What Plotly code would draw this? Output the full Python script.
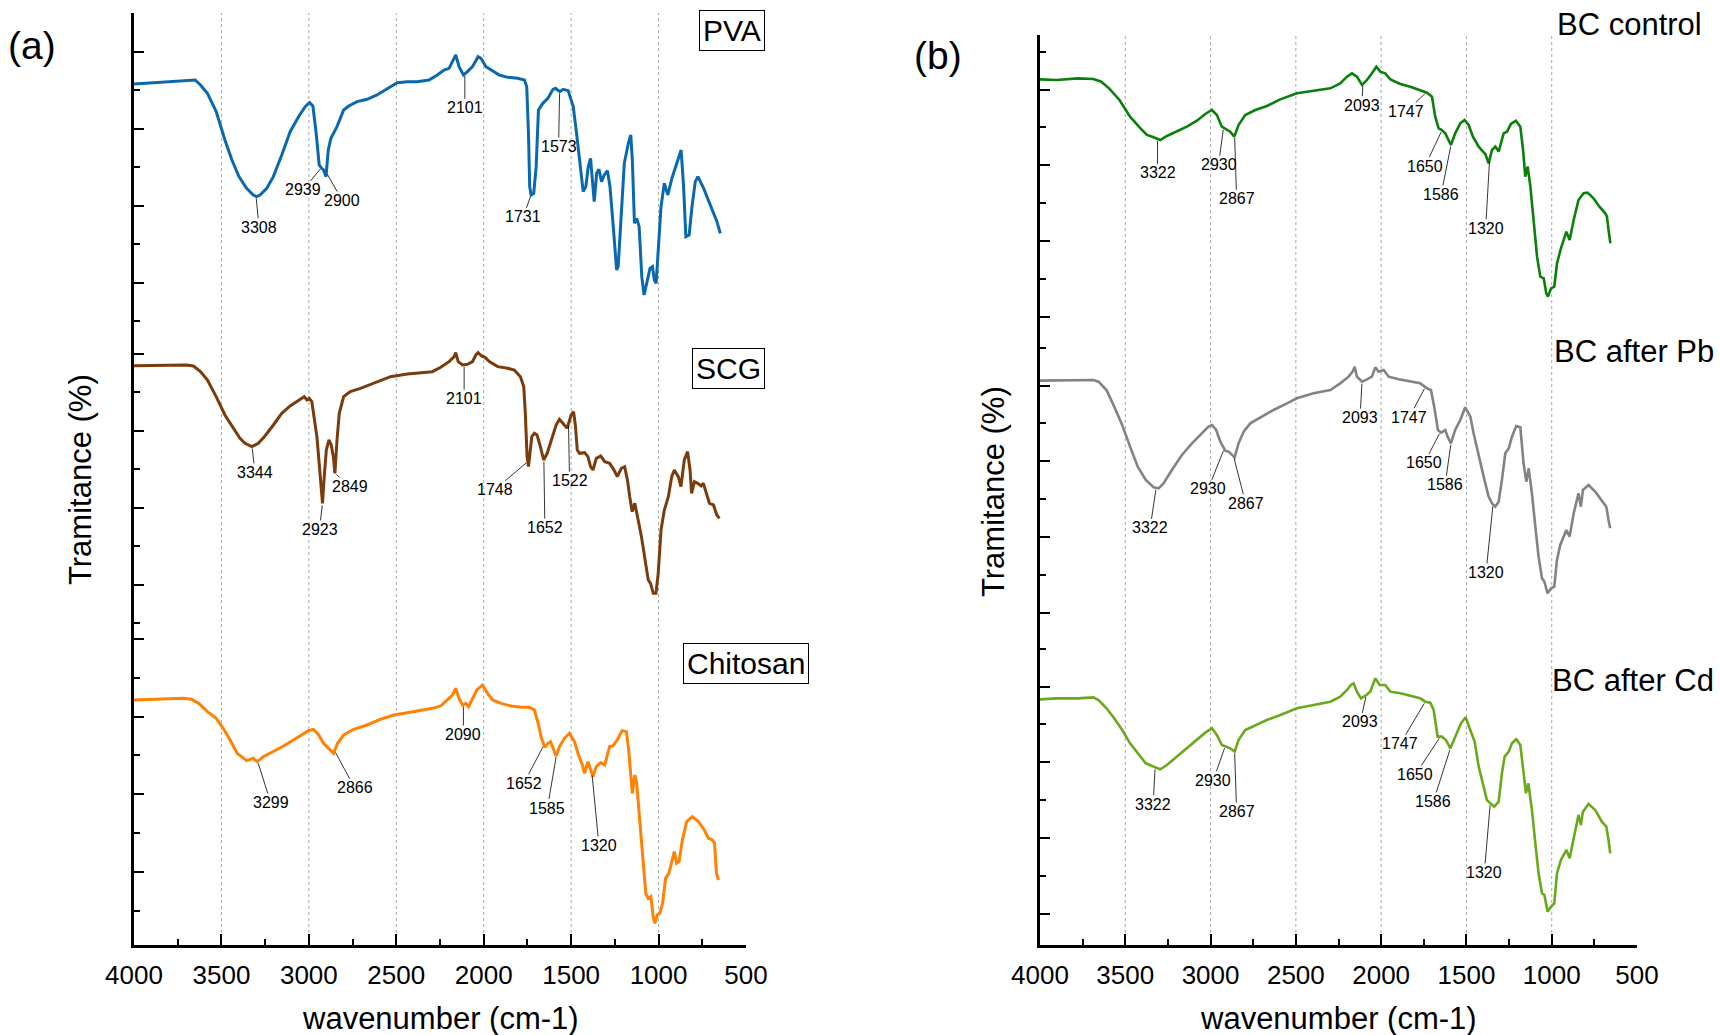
import numpy as np
import plotly.graph_objects as go

W, H = 1720, 1035

# ---------------- data (wavenumber cm-1, transmittance a.u.) ----------------
pva_wn = [4000, 3900, 3800, 3700, 3650, 3620, 3580, 3530, 3480, 3440,
          3400, 3356, 3318, 3299, 3279, 3241, 3203, 3155, 3107, 3059,
          3021, 2996, 2977, 2958, 2941, 2927, 2916, 2902, 2889, 2874,
          2839, 2801, 2772, 2724, 2667, 2610, 2552, 2495, 2437, 2380,
          2313, 2265, 2227, 2198, 2170, 2160, 2141, 2116, 2093, 2064,
          2032, 2016, 1987, 1959, 1911, 1863, 1806, 1767, 1754, 1744,
          1737, 1729, 1714, 1700, 1687, 1662, 1633, 1604, 1590, 1565,
          1546, 1517, 1488, 1469, 1450, 1431, 1416, 1402, 1389, 1377,
          1368, 1354, 1341, 1326, 1311, 1292, 1278, 1259, 1240, 1231,
          1215, 1196, 1173, 1159, 1150, 1138, 1125, 1111, 1096, 1083,
          1068, 1049, 1035, 1024, 1014, 1001, 986, 967, 947, 924,
          896, 871, 857, 844, 825, 809, 790, 775, 742, 714,
          685, 666, 647]
pva_t = [74.8, 75.2, 75.4, 76.0, 76.0, 74.5, 72.0, 66.5, 58.0, 52.0,
         47.0, 43.5, 41.5, 41.0, 41.5, 43.5, 47.0, 53.5, 60.5, 65.0,
         68.0, 69.2, 68.2, 60.0, 50.5, 49.5, 49.0, 47.0, 55.0, 58.5,
         62.0, 67.0, 68.2, 69.5, 70.2, 71.5, 73.5, 75.2, 75.5, 75.5,
         76.0, 77.5, 79.0, 79.5, 82.5, 83.5, 80.0, 77.5, 78.5, 80.0,
         83.0, 82.5, 80.0, 79.0, 77.5, 76.8, 76.5, 76.0, 74.0, 60.0,
         44.0, 41.5, 42.0, 50.0, 67.0, 69.0, 70.5, 73.2, 73.5, 72.5,
         73.2, 72.8, 68.0, 60.0, 51.0, 42.5, 44.0, 50.0, 52.5, 44.0,
         39.5, 48.0, 49.2, 45.5, 47.5, 48.8, 44.0, 32.0, 19.0, 20.0,
         36.0, 51.0, 57.0, 59.5, 52.0, 33.0, 34.5, 32.0, 17.0, 11.5,
         15.0, 19.5, 20.0, 16.0, 15.0, 25.0, 38.0, 45.0, 41.5, 46.5,
         51.0, 55.0, 44.0, 29.0, 29.5, 38.0, 45.5, 47.0, 43.5, 40.0,
         36.0, 33.5, 30.0]

scg_wn = [4000, 3800, 3700, 3660, 3620, 3580, 3530, 3480, 3394, 3365, 3327, 3289, 3251, 3203,
          3155, 3107, 3059, 3027, 3011, 2998, 2983, 2969, 2954, 2941, 2929, 2922, 2912, 2900,
          2885, 2872, 2860, 2851, 2839, 2826, 2801, 2763, 2705, 2629, 2533, 2437, 2342, 2294,
          2246, 2198, 2169, 2160, 2146, 2121, 2093, 2064, 2045, 2032, 2012, 1993, 1968, 1920,
          1863, 1825, 1790, 1771, 1762, 1752, 1744, 1735, 1725, 1710, 1695, 1676, 1657, 1637,
          1615, 1586, 1567, 1548, 1523, 1500, 1486, 1475, 1465, 1452, 1423, 1404, 1389, 1375,
          1356, 1331, 1308, 1280, 1255, 1236, 1213, 1194, 1178, 1165, 1151, 1136, 1127, 1113,
          1098, 1079, 1059, 1046, 1030, 1015, 1002, 986, 967, 944, 925, 910, 887, 872, 853,
          834, 820, 811, 795, 776, 757, 744, 725, 709, 686, 667, 652]
scg_t = [89.3, 89.5, 89.5, 89.2, 87.5, 85.0, 80.0, 74.5, 67.5, 66.0, 65.0, 66.0, 68.2, 71.5,
         75.0, 77.2, 79.0, 80.0, 79.0, 79.5, 78.5, 74.0, 68.0, 60.0, 51.0, 48.0, 56.0, 64.0,
         67.0, 65.5, 62.0, 57.0, 67.0, 75.0, 80.0, 81.5, 82.5, 84.0, 86.0, 86.8, 87.2, 87.5,
         88.8, 90.5, 92.0, 93.2, 90.5, 89.5, 89.7, 90.5, 92.5, 93.2, 92.2, 91.8, 90.5, 89.0,
         88.5, 88.0, 86.0, 83.0, 75.0, 62.0, 59.0, 63.0, 68.0, 69.0, 68.5, 65.0, 61.0, 63.0,
         67.0, 71.5, 73.2, 72.0, 70.5, 74.5, 75.5, 71.0, 64.0, 63.0, 63.2, 62.0, 59.0, 58.0,
         61.5, 62.2, 60.5, 60.0, 58.0, 56.0, 58.5, 59.0, 55.0, 50.0, 45.5, 48.0, 46.0, 42.0,
         38.0, 31.0, 25.0, 24.0, 21.0, 21.0, 27.0, 40.0, 46.0, 50.0, 56.0, 58.0, 56.0, 53.0, 61.0,
         63.5, 58.0, 51.0, 54.5, 54.0, 53.2, 54.0, 51.0, 48.0, 47.5, 44.5, 43.5]

chi_wn = [4000, 3800, 3720, 3670, 3630, 3580, 3530, 3490, 3450, 3410, 3356, 3318, 3295, 3260,
          3203, 3145, 3088, 3040, 3002, 2973, 2944, 2916, 2887, 2859, 2836, 2801, 2744, 2667,
          2591, 2514, 2437, 2361, 2294, 2246, 2208, 2179, 2160, 2141, 2121, 2102, 2087, 2064,
          2039, 2007, 1978, 1949, 1901, 1844, 1786, 1738, 1710, 1691, 1672, 1652, 1633, 1618,
          1601, 1586, 1567, 1538, 1510, 1481, 1458, 1439, 1423, 1404, 1391, 1375, 1356, 1331,
          1308, 1280, 1261, 1236, 1209, 1184, 1171, 1159, 1150, 1136, 1125, 1108, 1089, 1073,
          1059, 1044, 1031, 1021, 1008, 993, 977, 960, 941, 922, 910, 897, 883, 864, 839, 807,
          772, 738, 715, 692, 680, 669, 657]
chi_t = [82.0, 82.2, 82.5, 82.2, 81.0, 78.5, 76.5, 73.5, 70.0, 66.0, 63.8, 64.5, 63.5, 65.0,
         66.5, 68.2, 70.0, 71.5, 72.8, 73.2, 71.5, 69.0, 67.5, 66.0, 69.0, 71.5, 73.2, 74.5,
         76.2, 77.5, 78.2, 78.8, 79.5, 80.2, 82.0, 83.5, 85.5, 82.5, 80.5, 81.0, 80.0, 82.5,
         85.0, 86.5, 84.0, 82.0, 81.0, 80.2, 79.8, 79.8, 79.0, 75.5, 71.0, 67.8, 69.0, 69.5,
         67.0, 65.2, 68.0, 70.5, 72.0, 69.5, 65.5, 63.0, 60.0, 63.5, 61.5, 59.0, 62.0, 63.2,
         62.5, 68.0, 68.2, 70.0, 72.8, 72.5, 67.0, 58.0, 54.0, 59.5, 57.0, 46.0, 35.0, 24.0,
         22.5, 23.0, 17.0, 15.0, 17.5, 18.0, 21.0, 28.5, 30.0, 34.0, 36.5, 33.0, 33.5, 40.0, 45.5, 47.0,
         45.5, 43.0, 40.5, 40.0, 39.0, 30.0, 28.0]

ctl_wn = [4000, 3902, 3779, 3687, 3641, 3595, 3534, 3472, 3411, 3373, 3334, 3295, 3256, 3197,
          3139, 3080, 3031, 2992, 2963, 2934, 2908, 2885, 2861, 2836, 2797, 2738, 2670, 2591,
          2494, 2396, 2298, 2240, 2200, 2171, 2142, 2112, 2083, 2054, 2028, 2005, 1976, 1946,
          1888, 1829, 1771, 1731, 1702, 1683, 1663, 1644, 1624, 1591, 1566, 1536, 1511, 1487,
          1462, 1428, 1403, 1389, 1370, 1350, 1330, 1311, 1282, 1262, 1239, 1210, 1184, 1168,
          1155, 1141, 1125, 1106, 1086, 1067, 1047, 1032, 1022, 1004, 985, 969, 946, 914, 895,
          871, 843, 813, 790, 755, 720, 686, 676, 667, 656]
ctl_t = [85.2, 85.0, 85.5, 85.3, 84.5, 82.5, 79.0, 74.0, 70.5, 68.5, 67.8, 67.0, 68.2, 69.5,
         71.0, 72.8, 74.8, 76.0, 74.5, 71.0, 70.2, 69.5, 68.0, 71.5, 74.5, 76.0, 77.2, 79.2,
         81.0, 81.8, 82.5, 84.0, 86.0, 87.0, 86.0, 83.5, 85.0, 87.0, 89.0, 87.5, 87.0, 85.2,
         83.8, 83.0, 82.0, 81.2, 80.0, 74.0, 70.5, 70.0, 69.0, 65.5, 69.0, 72.0, 73.0, 71.5,
         68.0, 65.0, 63.5, 62.8, 60.0, 64.0, 65.0, 63.5, 69.0, 69.5, 71.8, 72.8, 71.0, 64.0,
         56.0, 59.0, 53.0, 42.0, 32.0, 26.0, 25.5, 21.0, 20.0, 22.5, 23.0, 30.0, 34.5, 39.5, 37.0,
         43.0, 49.0, 51.0, 51.2, 49.5, 47.0, 45.0, 44.0, 40.0, 36.0]

pb_wn = [4000, 3902, 3779, 3687, 3657, 3610, 3565, 3518, 3472, 3427, 3380, 3334, 3305, 3276,
         3227, 3168, 3109, 3051, 3012, 2992, 2967, 2943, 2914, 2894, 2859, 2836, 2806, 2767,
         2709, 2631, 2552, 2494, 2396, 2298, 2240, 2191, 2167, 2155, 2142, 2112, 2083, 2054,
         2034, 2015, 1985, 1956, 1897, 1829, 1771, 1731, 1708, 1689, 1667, 1648, 1624, 1610,
         1591, 1566, 1536, 1507, 1477, 1458, 1428, 1399, 1370, 1350, 1331, 1311, 1292, 1272,
         1252, 1233, 1208, 1184, 1165, 1149, 1135, 1116, 1096, 1077, 1057, 1043, 1024, 1004,
         985, 969, 950, 914, 895, 871, 843, 829, 817, 784, 745, 706, 680, 667, 657]
pb_t = [87.8, 87.8, 88.0, 88.0, 87.5, 85.0, 80.0, 74.5, 68.0, 62.0, 58.0, 55.8, 55.5, 57.0,
        61.0, 65.5, 69.0, 72.0, 74.0, 74.5, 73.0, 69.5, 66.8, 66.5, 64.8, 69.0, 72.5, 75.0,
        76.8, 79.0, 81.0, 82.5, 84.0, 85.0, 87.0, 89.0, 90.5, 92.0, 89.0, 87.5, 88.2, 89.0,
        91.8, 90.5, 91.0, 89.0, 88.2, 87.5, 87.0, 85.5, 85.0, 80.0, 73.0, 72.2, 73.0, 71.0,
        69.0, 73.0, 76.0, 79.8, 77.0, 72.0, 65.0, 59.0, 53.0, 51.0, 50.0, 51.5, 58.0, 66.0,
        67.5, 71.0, 74.2, 73.8, 63.0, 57.5, 61.5, 54.0, 44.0, 35.0, 28.5, 27.5, 24.0, 25.5,
        26.0, 34.0, 38.5, 43.0, 41.0, 48.0, 54.0, 50.0, 55.0, 56.5, 54.5, 52.0, 50.0, 46.0, 43.5]

cd_wn = [4000, 3902, 3779, 3687, 3657, 3610, 3565, 3518, 3472, 3427, 3380, 3334, 3295, 3256,
         3197, 3139, 3080, 3031, 2992, 2963, 2934, 2908, 2885, 2859, 2836, 2797, 2738, 2670,
         2591, 2494, 2396, 2298, 2240, 2200, 2177, 2161, 2142, 2118, 2087, 2064, 2034, 2009,
         1976, 1946, 1888, 1829, 1771, 1741, 1712, 1692, 1669, 1644, 1620, 1594, 1566, 1532,
         1505, 1477, 1452, 1428, 1403, 1380, 1360, 1337, 1311, 1292, 1276, 1252, 1233, 1208,
         1184, 1165, 1151, 1137, 1116, 1096, 1077, 1057, 1043, 1024, 1004, 985, 969, 946, 914,
         895, 871, 843, 829, 817, 784, 745, 706, 680, 667, 657]
cd_t = [82.2, 82.5, 82.5, 82.8, 82.0, 79.5, 76.5, 73.0, 69.0, 66.0, 63.0, 62.0, 61.2, 62.5,
        65.0, 67.5, 70.0, 72.2, 73.5, 71.5, 68.5, 68.0, 67.5, 66.5, 70.0, 73.0, 74.5, 76.0,
        77.5, 79.5, 80.5, 81.5, 83.0, 85.0, 86.5, 87.0, 84.5, 82.5, 83.5, 84.5, 88.5, 86.5,
        86.5, 84.5, 84.0, 83.2, 82.5, 81.5, 81.2, 79.0, 71.0, 71.0, 70.0, 67.5, 71.0, 75.0,
        76.8, 73.0, 69.5, 62.0, 57.0, 52.0, 51.0, 50.0, 51.5, 60.0, 65.0, 66.5, 69.0, 70.2,
        68.5, 60.0, 54.0, 57.0, 49.0, 39.0, 30.0, 24.0, 23.5, 18.5, 20.0, 21.0, 30.0, 34.0, 37.0,
        34.5, 41.0, 47.5, 44.5, 48.5, 50.8, 49.0, 45.5, 44.0, 40.0, 36.0]

# peak labels (text) and the wavenumber where each leader line meets the curve
pva_peaks = ["3308", "2939", "2900", "2101", "1731", "1573"]
pva_peak_wn = [3302, 2929, 2900, 2108, 1729, 1566]
scg_peaks = ["3344", "2923", "2849", "2101", "1748", "1652", "1522"]
scg_peak_wn = [3325, 2922, 2851, 2112, 1748, 1656, 1515]
chi_peaks = ["3299", "2866", "2090", "1652", "1585", "1320"]
chi_peak_wn = [3293, 2853, 2116, 1656, 1584, 1381]
bc_peaks = ["3322", "2930", "2867", "2093", "1747", "1650", "1586", "1320"]
ctl_peak_wn = [3311, 2924, 2859, 2107, 1735, 1643, 1590, 1364]
pb_peak_wn = [3319, 2920, 2865, 2112, 1741, 1653, 1590, 1344]
cd_peak_wn = [3325, 2914, 2859, 2087, 1741, 1653, 1594, 1360]

x_tick_labels = ["4000", "3500", "3000", "2500", "2000", "1500", "1000", "500"]
grid_wn = [3500, 3000, 2500, 2000, 1500, 1000]

# ---------------- styling / layout (pixel geometry) ----------------
FONT = "Arial, Liberation Sans, sans-serif"
def fx(p): return p / W
def fy(p): return 1 - p / H

# label pixel offsets (dx, dy) from the curve point to the label centre
pva_off = [(3, 31), (-18, 22), (16, 28), (0, 34), (-8, 22), (-1, 55)]
scg_off = [(3, 26), (-3, 26), (15, 13), (0, 34), (-33, 28), (1, 68), (1, 57)]
chi_off = [(13, 41), (20, 37), (0, 30), (-20, 38), (-9, 53), (7, 72)]
ctl_off = [(0, 34), (-5, 37), (2, 63), (-1, 21), (-20, 19), (-17, 36), (-10, 50), (-4, 69)]
pb_off = [(-6, 40), (-16, 40), (12, 47), (-2, 36), (-16, 30), (-16, 31), (-6, 42), (-7, 68)]
cd_off = [(-2, 37), (-12, 34), (2, 60), (-6, 27), (-25, 42), (-25, 38), (-17, 53), (-6, 69)]

spectra = [
    dict(wn=pva_wn, t=pva_t, color="#0a68ae", width=3.0, peaks=pva_peaks, pwn=pva_peak_wn, off=pva_off,
         ydom=(13, 338), yr=(-1.41, 96.1), tick0=15.1, dtick=23.1),
    dict(wn=scg_wn, t=scg_t, color="#7a3c0c", width=3.0, peaks=scg_peaks, pwn=scg_peak_wn, off=scg_off,
         ydom=(338, 631), yr=(9.69, 97.6), tick0=23.5, dtick=23.1),
    dict(wn=chi_wn, t=chi_t, color="#ff8205", width=3.0, peaks=chi_peaks, pwn=chi_peak_wn, off=chi_off,
         ydom=(631, 945), yr=(8.49, 102.7), tick0=30.4, dtick=23.3),
    dict(wn=ctl_wn, t=ctl_t, color="#0a800a", width=2.6, peaks=bc_peaks, pwn=ctl_peak_wn, off=ctl_off,
         ydom=(35, 336), yr=(8.19, 98.5), tick0=13.9, dtick=22.74),
    dict(wn=pb_wn, t=pb_t, color="#838383", width=2.6, peaks=bc_peaks, pwn=pb_peak_wn, off=pb_off,
         ydom=(336, 640), yr=(9.99, 101.2), tick0=18.1, dtick=22.74),
    dict(wn=cd_wn, t=cd_t, color="#6aa81c", width=2.6, peaks=bc_peaks, pwn=cd_peak_wn, off=cd_off,
         ydom=(640, 945), yr=(8.49, 100.0), tick0=17.8, dtick=22.74),
]

left_x = (134, 746)
right_x = (1040, 1637)

fig = go.Figure()
layout = dict(template="none", width=W, height=H,
              margin=dict(l=0, r=0, t=0, b=0, pad=0, autoexpand=False),
              paper_bgcolor="white", plot_bgcolor="white", showlegend=False,
              font=dict(family=FONT, color="black"))
annotations = []
shapes = []

for i, s in enumerate(spectra, start=1):
    assert len(s["wn"]) == len(s["t"]), i
    xa = "x" if i == 1 else f"x{i}"
    ya = "y" if i == 1 else f"y{i}"
    xkey = "xaxis" if i == 1 else f"xaxis{i}"
    ykey = "yaxis" if i == 1 else f"yaxis{i}"
    xd = left_x if i <= 3 else right_x
    bottom = i in (3, 6)
    fig.add_trace(go.Scatter(x=s["wn"], y=s["t"], mode="lines",
                             line=dict(color=s["color"], width=s["width"]),
                             xaxis=xa, yaxis=ya, hoverinfo="skip"))
    xax = dict(domain=[fx(xd[0]), fx(xd[1])], range=[4000, 500], anchor=ya,
               showgrid=False, zeroline=False, automargin=False)
    if bottom:
        xax.update(visible=True, showline=True, linewidth=2.6, linecolor="black",
                   ticks="inside", ticklen=11, tickwidth=2, tickcolor="black",
                   tickmode="array", tickvals=[int(v) for v in x_tick_labels], ticktext=x_tick_labels,
                   minor=dict(ticks="inside", ticklen=6, tickwidth=2, tickcolor="black",
                              tickmode="linear", tick0=0, dtick=250, showgrid=False),
                   tickfont=dict(size=26, family=FONT, color="black"),
                   ticklabelstandoff=5)
    else:
        xax.update(visible=False)
    layout[xkey] = xax
    layout[ykey] = dict(domain=[fy(s["ydom"][1]), fy(s["ydom"][0])], range=list(s["yr"]),
                        anchor=xa, showline=True, linewidth=2.6, linecolor="black",
                        ticks="inside", ticklen=10, tickwidth=2, tickcolor="black",
                        tick0=s["tick0"], dtick=s["dtick"], showticklabels=False,
                        minor=dict(ticks="inside", ticklen=6, tickwidth=2, tickcolor="black",
                                   tick0=s["tick0"], dtick=s["dtick"] / 2, showgrid=False),
                        showgrid=False, zeroline=False, automargin=False)
    # peak labels
    wn_inc = np.array(s["wn"][::-1], dtype=float)
    t_inc = np.array(s["t"][::-1], dtype=float)
    for txt, pw, (dx, dy) in zip(s["peaks"], s["pwn"], s["off"]):
        yv = float(np.interp(pw, wn_inc, t_inc))
        annotations.append(dict(x=pw, y=yv, xref=xa, yref=ya, text=txt, showarrow=True,
                                arrowhead=0, arrowwidth=0.8, arrowcolor="black",
                                ax=dx, ay=dy, standoff=2, borderpad=0,
                                font=dict(size=16, family=FONT, color="black")))

# dotted vertical grid lines
for xa, top in (("x3", 13), ("x6", 35)):
    for g in grid_wn:
        shapes.append(dict(type="line", xref=xa, yref="paper", x0=g, x1=g,
                           y0=fy(945), y1=fy(top), layer="below",
                           line=dict(color="#a8a8a8", width=1, dash="dot")))

def txt_ann(text, x, y, size, **kw):
    d = dict(text=text, x=fx(x), y=fy(y), xref="paper", yref="paper", showarrow=False,
             xanchor="center", yanchor="middle", font=dict(size=size, family=FONT, color="black"))
    d.update(kw)
    return d

annotations += [
    txt_ann("(a)", 32, 46, 39),
    txt_ann("(b)", 938, 56, 39),
    txt_ann("wavenumber (cm-1)", 440, 1018, 31),
    txt_ann("wavenumber (cm-1)", 1338, 1018, 31),
    txt_ann("Tramitance (%)", 80, 480, 31, textangle=-90),
    txt_ann("Tramitance (%)", 993, 492, 31, textangle=-90),
    txt_ann("PVA", 732, 30, 30, bordercolor="black", borderwidth=1, borderpad=3, bgcolor="white"),
    txt_ann("SCG", 728, 368, 30, bordercolor="black", borderwidth=1, borderpad=3, bgcolor="white"),
    txt_ann("Chitosan", 746, 663, 30, bordercolor="black", borderwidth=1, borderpad=3, bgcolor="white"),
    txt_ann("BC control", 1629, 24, 31),
    txt_ann("BC after Pb", 1634, 351, 31),
    txt_ann("BC after Cd", 1633, 680, 31),
]

layout["annotations"] = annotations
layout["shapes"] = shapes
fig.update_layout(**layout)
fig.write_html("out.html", post_script="document.body.style.margin='0';",
               config={"displayModeBar": False})
